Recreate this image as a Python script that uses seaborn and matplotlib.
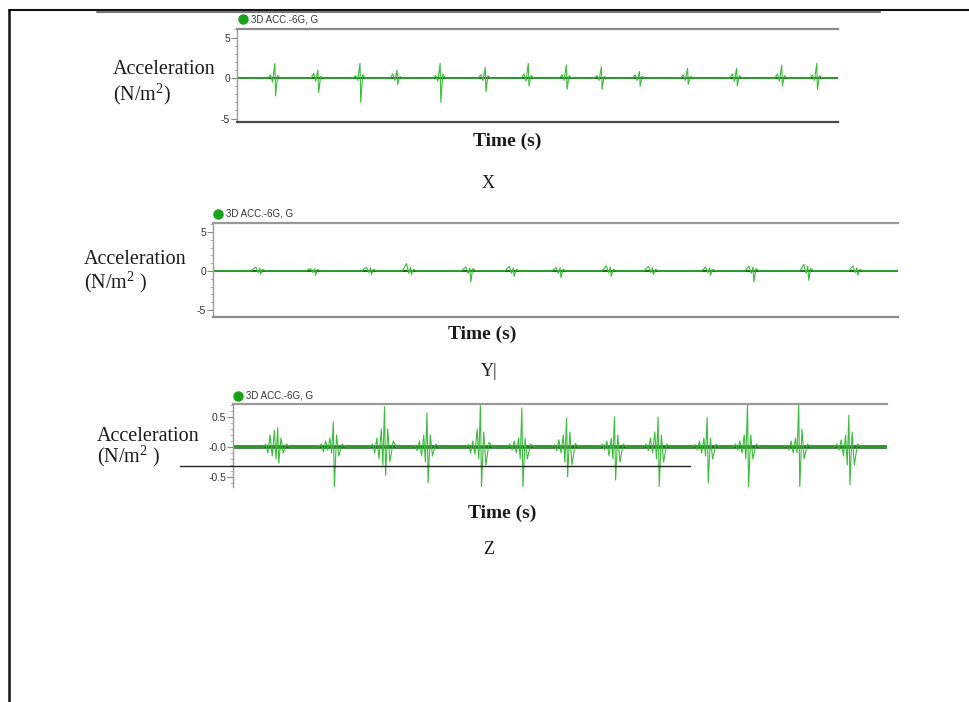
import numpy as np
import pandas as pd
import matplotlib
matplotlib.use("Agg")
import matplotlib.pyplot as plt
import seaborn as sns
from matplotlib.lines import Line2D
from matplotlib.ticker import FixedLocator, MultipleLocator, FixedFormatter

# ---------------- data ----------------
legend_label = "3D ACC.-6G, G"
y_label_1 = "Acceleration"
panel_titles = ["X", "Y|", "Z"]
x_label = "Time (s)"

# X axis panel: spike times (s) and read waveform values
x_spike_t = [3.8, 8.1, 12.3, 16.0, 20.3, 24.8, 29.1, 32.9, 36.4, 40.2, 45.0, 49.9, 54.4, 57.9]
x_spike_v = [
    [0.4, -0.5, 1.8, -2.2, 0.3],
    [0.6, -0.4, 1.0, -1.8, 0.2],
    [0.3, -0.3, 1.8, -3.0, 0.4],
    [0.5, -0.3, 1.0, -0.8, 0.2],
    [0.3, -0.4, 1.8, -3.0, 0.5],
    [0.4, -0.3, 1.3, -1.7, 0.3],
    [0.5, -0.4, 1.8, -1.0, 0.3],
    [0.4, -0.3, 1.6, -1.4, 0.3],
    [0.3, -0.3, 1.4, -1.4, 0.2],
    [0.4, -0.3, 0.8, -1.0, 0.2],
    [0.4, -0.3, 1.2, -0.8, 0.2],
    [0.5, -0.4, 1.2, -1.0, 0.3],
    [0.5, -0.4, 1.6, -1.0, 0.3],
    [0.4, -0.3, 1.8, -1.4, 0.3],
]
x_ticks = [5, 0, -5]
x_tick_labels = ["5", "0", "-5"]

# Y axis panel
y_spike_t = [4.1, 8.9, 13.8, 17.3, 22.5, 26.3, 30.4, 34.8, 38.5, 43.5, 47.3, 52.1, 56.4]
y_spike_v = [
    [0.3, 0.5, -0.2, 0.4, -0.4, 0.2],
    [0.2, 0.3, -0.2, 0.3, -0.55, 0.2],
    [0.3, 0.45, -0.2, 0.4, -0.45, 0.2],
    [0.4, 0.95, -0.3, 0.5, -0.45, 0.2],
    [0.3, 0.5, -0.3, 0.4, -1.4, 0.3],
    [0.3, 0.6, -0.3, 0.4, -0.7, 0.2],
    [0.2, 0.45, -0.3, 0.4, -0.85, 0.2],
    [0.3, 0.65, -0.2, 0.5, -0.7, 0.2],
    [0.3, 0.6, -0.2, 0.4, -0.45, 0.2],
    [0.2, 0.5, -0.2, 0.4, -0.55, 0.2],
    [0.3, 0.6, -0.3, 0.5, -1.4, 0.3],
    [0.3, 0.85, -0.3, 0.6, -1.2, 0.3],
    [0.3, 0.65, -0.2, 0.4, -0.55, 0.2],
]
y_ticks = [5, 0, -5]
y_tick_labels = ["5", "0", "-5"]

# Z axis panel
z_spike_t = [4.1, 9.2, 13.9, 17.8, 22.7, 26.5, 30.6, 35.0, 39.0, 43.5, 47.2, 51.9, 56.5]
z_spike_v = [
    [0.05, -0.10, 0.20, -0.15, 0.28, -0.20, 0.32, -0.27, 0.15, -0.10, 0.05],
    [0.05, -0.08, 0.10, -0.05, 0.15, -0.10, 0.42, -0.67, 0.20, -0.15, 0.05],
    [0.05, -0.10, 0.15, -0.20, 0.30, -0.30, 0.67, -0.47, 0.30, -0.25, 0.10],
    [0.03, -0.06, 0.10, -0.15, 0.20, -0.25, 0.57, -0.60, 0.20, -0.15, 0.05],
    [0.04, -0.10, 0.10, -0.12, 0.30, -0.20, 0.72, -0.67, 0.25, -0.30, 0.08],
    [0.05, -0.05, 0.10, -0.10, 0.15, -0.20, 0.65, -0.67, 0.15, -0.20, 0.05],
    [0.04, -0.06, 0.12, -0.10, 0.20, -0.25, 0.48, -0.50, 0.25, -0.30, 0.06],
    [0.05, -0.05, 0.10, -0.15, 0.15, -0.20, 0.50, -0.55, 0.20, -0.25, 0.05],
    [0.05, -0.06, 0.15, -0.10, 0.25, -0.20, 0.50, -0.67, 0.20, -0.25, 0.05],
    [0.04, -0.05, 0.10, -0.10, 0.15, -0.15, 0.50, -0.60, 0.15, -0.20, 0.05],
    [0.05, -0.05, 0.10, -0.10, 0.20, -0.20, 0.72, -0.67, 0.20, -0.20, 0.05],
    [0.03, -0.05, 0.10, -0.10, 0.15, -0.10, 0.72, -0.67, 0.30, -0.20, 0.05],
    [0.05, -0.05, 0.12, -0.15, 0.20, -0.30, 0.53, -0.63, 0.25, -0.30, 0.05],
]
z_ticks = [0.5, 0.0, -0.5]
z_tick_labels = ["0.5", "-0.0", "-0.5"]

t_end = 60.0

# ---------------- style / layout ----------------
W, H = 969, 702
sns.set_style("white")
plt.rcParams["font.family"] = ["Liberation Serif", "DejaVu Serif"]
plt.rcParams["mathtext.fontset"] = "custom"
plt.rcParams["mathtext.rm"] = "Liberation Serif"
plt.rcParams["mathtext.it"] = "Liberation Serif:italic"

fig = plt.figure(figsize=(W / 100, H / 100), dpi=100)
fig.patch.set_facecolor("white")


def fbox(l, t, r, b):
    return [l / W, 1 - b / H, (r - l) / W, (b - t) / H]


def fx(x):
    return x / W


def fy(y):
    return 1 - y / H


def build(spike_t, spike_v, offsets):
    t, v = [0.0], [0.0]
    for st, vals in zip(spike_t, spike_v):
        full = [0.0] + list(vals) + [0.0]
        for o, val in zip(offsets, full):
            t.append(st + o)
            v.append(val)
    t.append(t_end)
    v.append(0.0)
    return pd.DataFrame({"time": t, "acc": v})


panels = [
    dict(box=(237, 29, 838, 122), ylim=(-5.43, 6.05), t=x_spike_t, v=x_spike_v,
         offs=[-0.7, -0.45, -0.25, -0.02, 0.05, 0.25, 0.5],
         ticks=x_ticks, labels=x_tick_labels, minor=1.0,
         top_c="#8a8a8a", bot_c="#4a4a4a", show_bottom=True,
         dot=(243, 19), lab=(113, 70, 94), xl=(507, 141), letter=(488, 184),
         ylab2=r"(N/m$^{2}$)", base_lw=1.5, spike_lw=0.8),
    dict(box=(213, 223, 898, 317), ylim=(-5.9, 6.15), t=y_spike_t, v=y_spike_v,
         offs=[-0.75, -0.55, -0.35, -0.15, 0.0, 0.08, 0.25, 0.55],
         ticks=y_ticks, labels=y_tick_labels, minor=1.0,
         top_c="#999999", bot_c="#8c8c8c", show_bottom=True,
         dot=(218, 214), lab=(84, 260, 282), xl=(482, 334), letter=(489, 372),
         ylab2=r"(N/m$^{2}$ )", base_lw=1.5, spike_lw=0.8),
    dict(box=(233, 404, 887, 487), ylim=(-0.667, 0.717), t=z_spike_t, v=z_spike_v,
         offs=[-1.3, -1.1, -0.9, -0.7, -0.5, -0.3, -0.15, 0.0, 0.1, 0.3, 0.5, 0.8, 1.1],
         ticks=z_ticks, labels=z_tick_labels, minor=0.1,
         top_c="#9a9a9a", bot_c=None, show_bottom=False,
         dot=(238, 396), lab=(97, 436, 456), xl=(502, 513), letter=(489, 550),
         ylab2=r"(N/m$^{2}$ )", base_lw=2.6, spike_lw=0.8),
]

for i, p in enumerate(panels):
    ax = fig.add_axes(fbox(*p["box"]))
    ax.set_facecolor("none")
    df = build(p["t"], p["v"], p["offs"])
    ax.axhline(0, color="#256b25", lw=p["base_lw"], zorder=1)
    sns.lineplot(data=df, x="time", y="acc", ax=ax, estimator=None, sort=False,
                 color="#3cbc3c", lw=p["spike_lw"], zorder=2)
    ax.set_xlim(0, t_end)
    ax.set_ylim(*p["ylim"])
    ax.set_xlabel("")
    ax.set_ylabel("")
    ax.set_xticks([])
    ax.yaxis.set_major_locator(FixedLocator(p["ticks"]))
    ax.yaxis.set_major_formatter(FixedFormatter(p["labels"]))
    ax.yaxis.set_minor_locator(MultipleLocator(p["minor"]))
    ax.tick_params(axis="y", which="major", length=4, width=0.8, color="#888888",
                   labelsize=7.5, labelcolor="#333333", pad=1, left=True)
    ax.tick_params(axis="y", which="minor", length=2, width=0.6, color="#aaaaaa", left=True)
    for lbl in ax.get_yticklabels():
        lbl.set_fontfamily("Liberation Sans")
    ax.spines["right"].set_visible(False)
    ax.spines["left"].set_color("#9a9a9a")
    ax.spines["left"].set_linewidth(1.0)
    ax.spines["top"].set_color(p["top_c"])
    ax.spines["top"].set_linewidth(1.6)
    if p["show_bottom"]:
        ax.spines["bottom"].set_color(p["bot_c"])
        ax.spines["bottom"].set_linewidth(1.6)
    else:
        ax.spines["bottom"].set_visible(False)

    # legend marker + text
    dx, dy = p["dot"]
    fig.lines.append(Line2D([fx(dx)], [fy(dy)], marker="o", ms=6.5, color="#17a317",
                            ls="", transform=fig.transFigure))
    fig.text(fx(dx + 8), fy(dy), legend_label, fontsize=7, family="Liberation Sans",
             color="#333333", va="center", ha="left")

    lx, ly1, ly2 = p["lab"]
    fig.text(fx(lx), fy(ly1), y_label_1, fontsize=14.5, va="center", ha="left", color="#1a1a1a")
    fig.text(fx(lx), fy(ly2), p["ylab2"], fontsize=14.5, va="center", ha="left", color="#1a1a1a")
    fig.text(fx(p["xl"][0]), fy(p["xl"][1]), x_label, fontsize=14, fontweight="bold",
             va="center", ha="center", color="#1a1a1a")
    fig.text(fx(p["letter"][0]), fy(p["letter"][1]), panel_titles[i], fontsize=13,
             va="center", ha="center", color="#1a1a1a")

# page decorations
fig.lines.append(Line2D([fx(9), fx(969)], [fy(10), fy(10)], color="#111111", lw=1.5,
                        transform=fig.transFigure))
fig.lines.append(Line2D([fx(9), fx(9)], [fy(10), fy(702)], color="#111111", lw=1.8,
                        transform=fig.transFigure))
fig.lines.append(Line2D([fx(97), fx(880)], [fy(12), fy(12)], color="#777777", lw=1.5,
                        transform=fig.transFigure))
fig.lines.append(Line2D([fx(180), fx(690)], [fy(466), fy(466)], color="#222222", lw=1.0,
                        transform=fig.transFigure))

fig.savefig("out.png", dpi=100, facecolor="white")
